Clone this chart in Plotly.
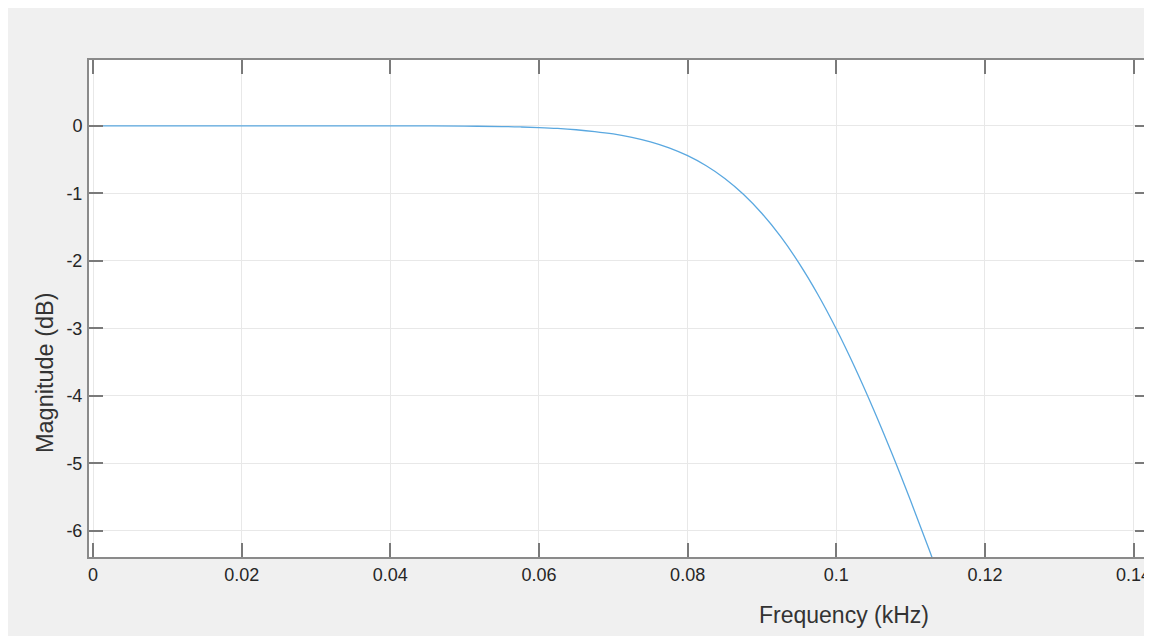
import plotly.graph_objects as go

# Frequency (kHz) and magnitude (dB)
freq_khz = [0.0, 0.01, 0.02, 0.03, 0.04, 0.045, 0.05, 0.055, 0.0575, 0.06, 0.0625,
            0.065, 0.0675, 0.07, 0.0725, 0.075, 0.0775, 0.08, 0.0825, 0.085, 0.0875,
            0.09, 0.0925, 0.095, 0.0975, 0.1, 0.1025, 0.105, 0.1075, 0.11, 0.1125, 0.115]
mag_db = [0.0, 0.0, 0.0, 0.0, -0.0005, -0.0015, -0.0042, -0.011, -0.017, -0.026, -0.039,
          -0.058, -0.085, -0.121, -0.171, -0.238, -0.327, -0.443, -0.592, -0.780, -1.014,
          -1.299, -1.639, -2.038, -2.495, -3.010, -3.580, -4.198, -4.859, -5.556, -6.281, -7.029]

x_tickvals = [0, 0.02, 0.04, 0.06, 0.08, 0.1, 0.12, 0.14]
x_ticktext = ["0", "0.02", "0.04", "0.06", "0.08", "0.1", "0.12", "0.14"]
y_tickvals = [0, -1, -2, -3, -4, -5, -6]
y_ticktext = ["0", "-1", "-2", "-3", "-4", "-5", "-6"]

# page offset of 8px (body margin) -> figure sized to fill the rest of the window
OFF = 8
W, H = 1152 - OFF, 636 - OFF
L, R, T, B = 89 - OFF, 1, 60 - OFF, 79
pw = W - L - R
ph = H - T - B

def px_x(px):
    return (px - OFF - L) / pw

def px_y(py):
    return (H - B - (py - OFF)) / ph

fig = go.Figure()
fig.add_trace(go.Scatter(
    x=freq_khz, y=mag_db, mode="lines",
    line=dict(color="#5aa8e0", width=1.3, shape="spline", smoothing=1.0),
    showlegend=False, hoverinfo="skip",
))

axis_common = dict(
    showline=True, linecolor="#8a8a8a", linewidth=2, mirror="ticks",
    ticks="inside", ticklen=14, tickwidth=1.5, tickcolor="#7a7a7a",
    showgrid=True, gridcolor="#e8e8e8", gridwidth=1, zeroline=False,
    tickfont=dict(family="Liberation Sans, Arial, sans-serif", size=18, color="#262626"),
)

fig.update_xaxes(range=[-0.00054, 0.14207], tickvals=x_tickvals, ticktext=x_ticktext,
                 ticklabelstandoff=0, **axis_common)
fig.update_yaxes(range=[-6.388, 0.975], tickvals=y_tickvals, ticktext=y_ticktext,
                 ticklabelstandoff=1, **axis_common)

fig.update_layout(
    width=W, height=H,
    margin=dict(l=L, r=R, t=T, b=B, pad=0),
    paper_bgcolor="#f0f0f0", plot_bgcolor="#ffffff",
    annotations=[
        dict(text="Frequency (kHz)", xref="paper", yref="paper",
             x=px_x(845), y=px_y(615), xanchor="center", yanchor="middle",
             showarrow=False,
             font=dict(family="Liberation Sans, Arial, sans-serif", size=23, color="#333333")),
        dict(text="Magnitude (dB)", xref="paper", yref="paper",
             x=px_x(45), y=px_y(373), xanchor="center", yanchor="middle",
             textangle=-90, showarrow=False,
             font=dict(family="Liberation Sans, Arial, sans-serif", size=23.5, color="#333333")),
    ],
)

fig.write_html(
    "out.html",
    post_script="document.documentElement.style.overflow='hidden';"
                "document.body.style.overflow='hidden';",
)
